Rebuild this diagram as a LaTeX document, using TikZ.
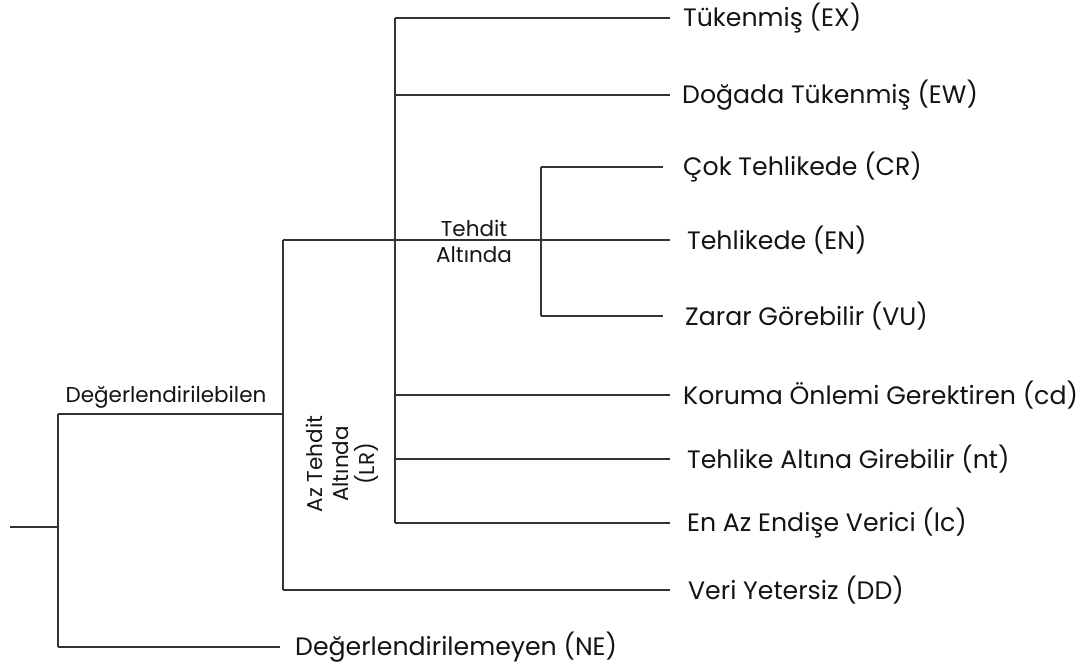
\documentclass[tikz,border=0pt]{standalone}
\usepackage{fontspec}
\setmainfont{Poppins}
\begin{document}
\begin{tikzpicture}[x=1pt,y=-1pt,
  conn/.style={draw=black!80, line width=1.3pt},
  leaf/.style={anchor=west, inner sep=0pt, text=black!92, font=\fontsize{25.2}{28}\selectfont},
  small/.style={inner sep=0pt, align=center, text=black!92, font=\fontsize{21.5}{26}\selectfont}]
\useasboundingbox (0,0) rectangle (1092,666);
% branch points
\coordinate (root) at (10,527);
\coordinate (j0) at (58,527);
\coordinate (v0t) at (58,414);
\coordinate (v0b) at (58,647);
\coordinate (v1t) at (283,240);
\coordinate (v1b) at (283,590);
\coordinate (v2t) at (395,18);
\coordinate (v2b) at (395,523);
\coordinate (v3t) at (541,167);
\coordinate (v3b) at (541,316);
% leaves
\node[leaf] (EX) at (683,18) {Tükenmiş (EX)};
\node[leaf] (EW) at (682,95) {Doğada Tükenmiş (EW)};
\node[leaf] (CR) at (683,167) {Çok Tehlikede (CR)};
\node[leaf] (EN) at (687,240) {Tehlikede (EN)};
\node[leaf] (VU) at (685,316) {Zarar Görebilir (VU)};
\node[leaf] (CD) at (683,395) {Koruma Önlemi Gerektiren (cd)};
\node[leaf] (NT) at (687,459) {Tehlike Altına Girebilir (nt)};
\node[leaf] (LC) at (687,523) {En Az Endişe Verici (lc)};
\node[leaf] (DD) at (688,590) {Veri Yetersiz (DD)};
\node[leaf] (NE) at (295,647) {Değerlendirilemeyen (NE)};
% group labels
\node[small] (deg) at (166,397) {Değerlendirilebilen};
\node[small] (ta) at (474,241) {Tehdit\\Altında};
\node[small, rotate=90] (lr) at (342,464) {Az Tehdit\\Altında\\(LR)};
% connectors
\draw[conn] (root) -- (j0);
\draw[conn] (v0t) -- (v0b);
\draw[conn] (v0t) -- (v0t -| v1t);
\draw[conn, shorten >=15pt] (v0b) -- (NE.west);
\draw[conn] (v1t) -- (v1b);
\draw[conn, shorten >=17pt] (v1t) -- (EN.west);
\draw[conn, shorten >=18pt] (v1b) -- (DD.west);
\draw[conn] (v2t) -- (v2b);
\draw[conn, shorten >=13pt] (v2t) -- (EX.west);
\draw[conn, shorten >=12pt] (v2t |- EW.west) -- (EW.west);
\draw[conn, shorten >=13pt] (v2t |- CD.west) -- (CD.west);
\draw[conn, shorten >=17pt] (v2t |- NT.west) -- (NT.west);
\draw[conn, shorten >=17pt] (v2b) -- (LC.west);
\draw[conn] (v3t) -- (v3b);
\draw[conn, shorten >=20pt] (v3t) -- (CR.west);
\draw[conn, shorten >=22pt] (v3b) -- (VU.west);
\end{tikzpicture}
\end{document}
